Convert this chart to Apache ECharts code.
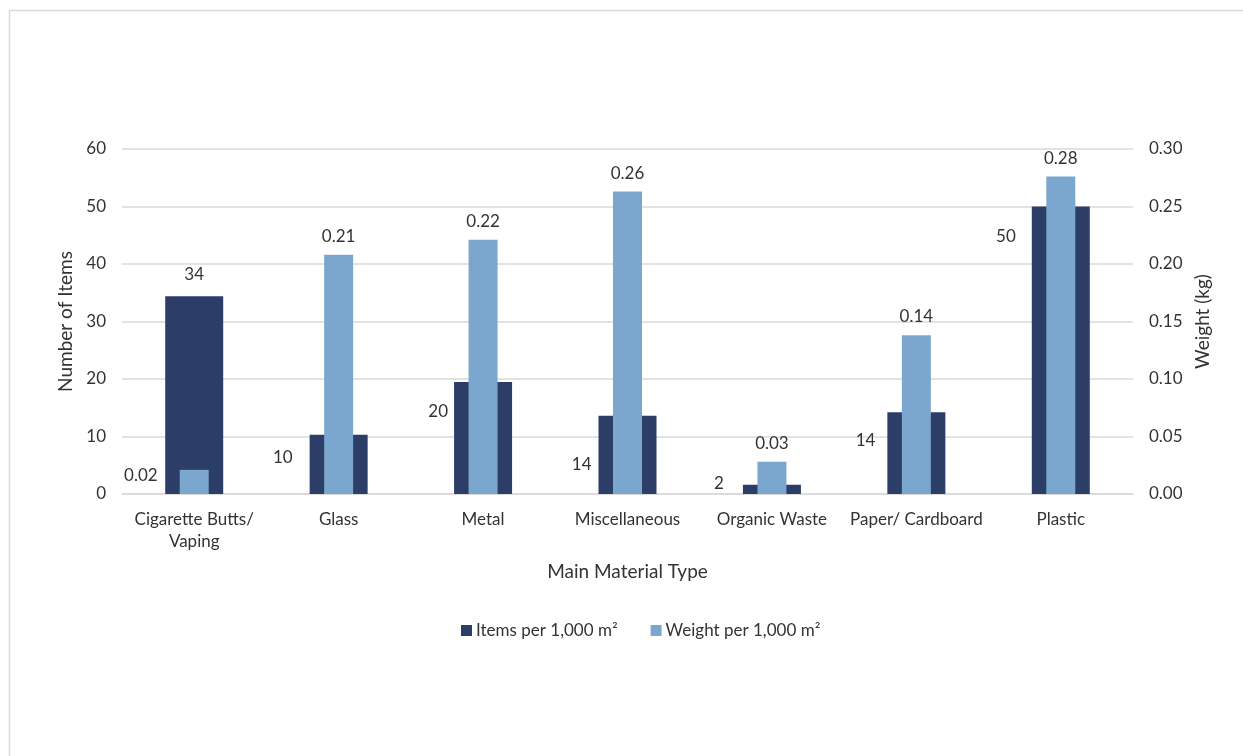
<!DOCTYPE html>
<html>
<head>
<meta charset="utf-8">
<title>Litter by main material type</title>
<script src="https://cdn.jsdelivr.net/npm/echarts@6/dist/echarts.min.js"></script>
<style>
  html, body { margin: 0; padding: 0; background: #ffffff; }
  #chart { width: 1243px; height: 756px; }
</style>
</head>
<body>
<div id="chart"></div>
<script>
// Categories and series values
const categories = ['Cigarette Butts/\nVaping', 'Glass', 'Metal', 'Miscellaneous', 'Organic Waste', 'Paper/ Cardboard', 'Plastic'];
const itemsPer1000 = [34.4, 10.3, 19.5, 13.6, 1.6, 14.2, 50.0];
const weightPer1000 = [0.021, 0.208, 0.221, 0.263, 0.028, 0.138, 0.276];
const itemsTicks = [0, 10, 20, 30, 40, 50, 60];
const weightTicks = ['0.00', '0.05', '0.10', '0.15', '0.20', '0.25', '0.30'];

// Hand-placed label spots for the item counts: [gap left of bar, px below bar top]; null = above the bar
const itemsLabelSpots = [null, [17, 23], [6, 30], [7, 49], [19, -1], [12, 28], [16, 30]];

const FONT = 'Lato, "Open Sans", sans-serif';
const TEXT = '#333333';
const DARK = '#2c3e67';
const LIGHT = '#7ba7cf';
const GRID = '#d9d9d9';

const itemsData = itemsPer1000.map((v, i) => {
  const spot = itemsLabelSpots[i];
  if (!spot) return { value: v, label: { position: 'top', distance: 13 } };
  return {
    value: v,
    label: { position: [-spot[0], spot[1]], align: 'right', verticalAlign: 'middle' }
  };
});

const weightData = weightPer1000.map((v, i) => {
  if (i === 0) {
    return { value: v, label: { position: [-22, 6], align: 'right', verticalAlign: 'middle' } };
  }
  return { value: v };
});

const chart = echarts.init(document.getElementById('chart'), null, { renderer: 'canvas' });

chart.setOption({
  backgroundColor: '#ffffff',
  animation: false,
  textStyle: { fontFamily: FONT, color: TEXT },
  graphic: [{
    type: 'rect',
    silent: true,
    shape: { x: 9.5, y: 10.5, width: 1300, height: 800 },
    style: { fill: 'none', stroke: GRID, lineWidth: 1.5 }
  }],
  grid: { left: 122, right: 110, top: 149, bottom: 262, containLabel: false },
  legend: {
    left: 456,
    top: 617,
    itemWidth: 11,
    itemHeight: 11,
    itemGap: 33,
    icon: 'rect',
    textStyle: { fontFamily: FONT, fontSize: 17, color: TEXT, padding: [0, 0, 0, -1] },
    data: ['Items per 1,000 m²', 'Weight per 1,000 m²']
  },
  xAxis: [{
    type: 'category',
    data: categories,
    name: 'Main Material Type',
    nameLocation: 'middle',
    nameGap: 68,
    nameTextStyle: { fontFamily: FONT, fontSize: 19, color: TEXT },
    axisLine: { show: true, lineStyle: { color: GRID, width: 1.5 } },
    axisTick: { show: false },
    axisLabel: { margin: 15, fontFamily: FONT, fontSize: 17, color: TEXT, lineHeight: 22, interval: 0 }
  }, {
    type: 'category',
    data: categories,
    show: false
  }],
  yAxis: [{
    type: 'value',
    min: 0,
    max: 60,
    interval: 10,
    name: 'Number of Items',
    nameLocation: 'middle',
    nameGap: 43,
    nameRotate: 90,
    nameTextStyle: { fontFamily: FONT, fontSize: 19, color: TEXT },
    axisLine: { show: false },
    axisTick: { show: false },
    splitLine: { lineStyle: { color: GRID, width: 1.5 } },
    axisLabel: {
      margin: 16, fontFamily: FONT, fontSize: 17, color: TEXT,
      formatter: v => String(itemsTicks[Math.round(v / 10)])
    }
  }, {
    type: 'value',
    min: 0,
    max: 0.3,
    interval: 0.05,
    name: 'Weight (kg)',
    nameLocation: 'middle',
    nameGap: 60,
    nameRotate: 90,
    nameTextStyle: { fontFamily: FONT, fontSize: 19, color: TEXT },
    axisLine: { show: false },
    axisTick: { show: false },
    splitLine: { show: false },
    axisLabel: {
      margin: 16, fontFamily: FONT, fontSize: 17, color: TEXT,
      formatter: v => weightTicks[Math.round(v / 0.05)]
    }
  }],
  series: [{
    name: 'Items per 1,000 m²',
    type: 'bar',
    xAxisIndex: 0,
    yAxisIndex: 0,
    barWidth: 58,
    itemStyle: { color: DARK },
    label: {
      show: true,
      fontFamily: FONT,
      fontSize: 17,
      color: TEXT,
      formatter: p => String(Math.round(p.value))
    },
    data: itemsData,
    z: 2
  }, {
    name: 'Weight per 1,000 m²',
    type: 'bar',
    xAxisIndex: 1,
    yAxisIndex: 1,
    barWidth: 29,
    itemStyle: { color: LIGHT },
    label: {
      show: true,
      position: 'top',
      distance: 10,
      fontFamily: FONT,
      fontSize: 17,
      color: TEXT,
      formatter: p => p.value.toFixed(2)
    },
    data: weightData,
    z: 3
  }]
});
</script>
</body>
</html>
